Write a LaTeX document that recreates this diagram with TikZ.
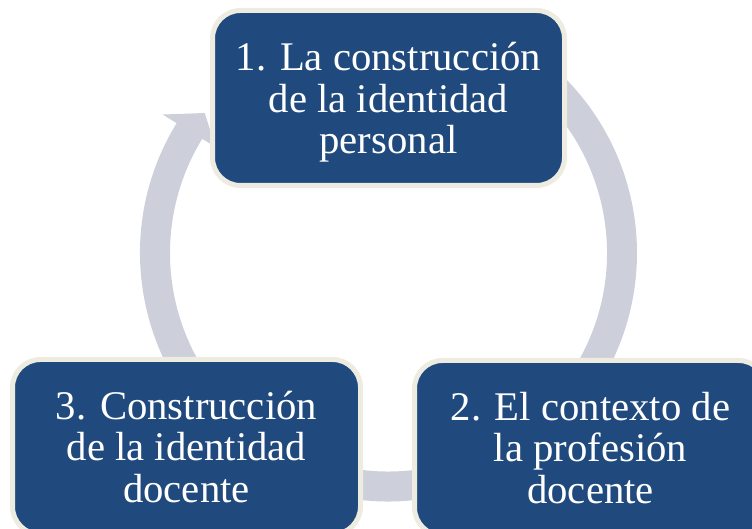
\documentclass[tikz,border=0pt]{standalone}
\usepackage{fontspec}
\setmainfont{Liberation Serif}
\definecolor{boxblue}{RGB}{32,74,125}
\definecolor{boxrim}{RGB}{238,236,225}
\definecolor{ringgray}{RGB}{205,208,219}
\tikzset{
  cyclebox/.style={draw=boxrim, line width=5pt, fill=boxblue, rounded corners=28pt,
    text=white, align=center, inner sep=0pt, minimum height=175pt,
    font=\fontsize{40.7}{41.7}\selectfont},
  ring/.style={fill=ringgray, draw=none}
}
\begin{document}
\begin{tikzpicture}[x=1pt,y=1pt]
\useasboundingbox (0,0) rectangle (752,529);
\clip (0,0) rectangle (752,529);
\coordinate (C) at (388.5,276);
% circular arrow
\begin{scope}[shift={(C)}]
\path[ring] (148.5:248.5) arc[start angle=148.5, end angle=420, radius=248.5]
  -- (420:218.5) arc[start angle=420, end angle=148.5, radius=218.5]
  -- (148.5:203) -- (142.7:231) -- (148.5:265) -- cycle;
\end{scope}
% boxes
\node[cyclebox, minimum width=352pt] (b1) at (388.5,431)
  {1. La construcción\\de la identidad\\\smash{personal}};
\node[cyclebox, minimum width=352pt] (b2) at (590.5,81)
  {2. El contexto de\\la profesión\\docente};
\node[cyclebox, minimum width=348pt] (b3) at (186.5,82)
  {3. Construcción\\de la identidad\\docente};
\end{tikzpicture}
\end{document}
